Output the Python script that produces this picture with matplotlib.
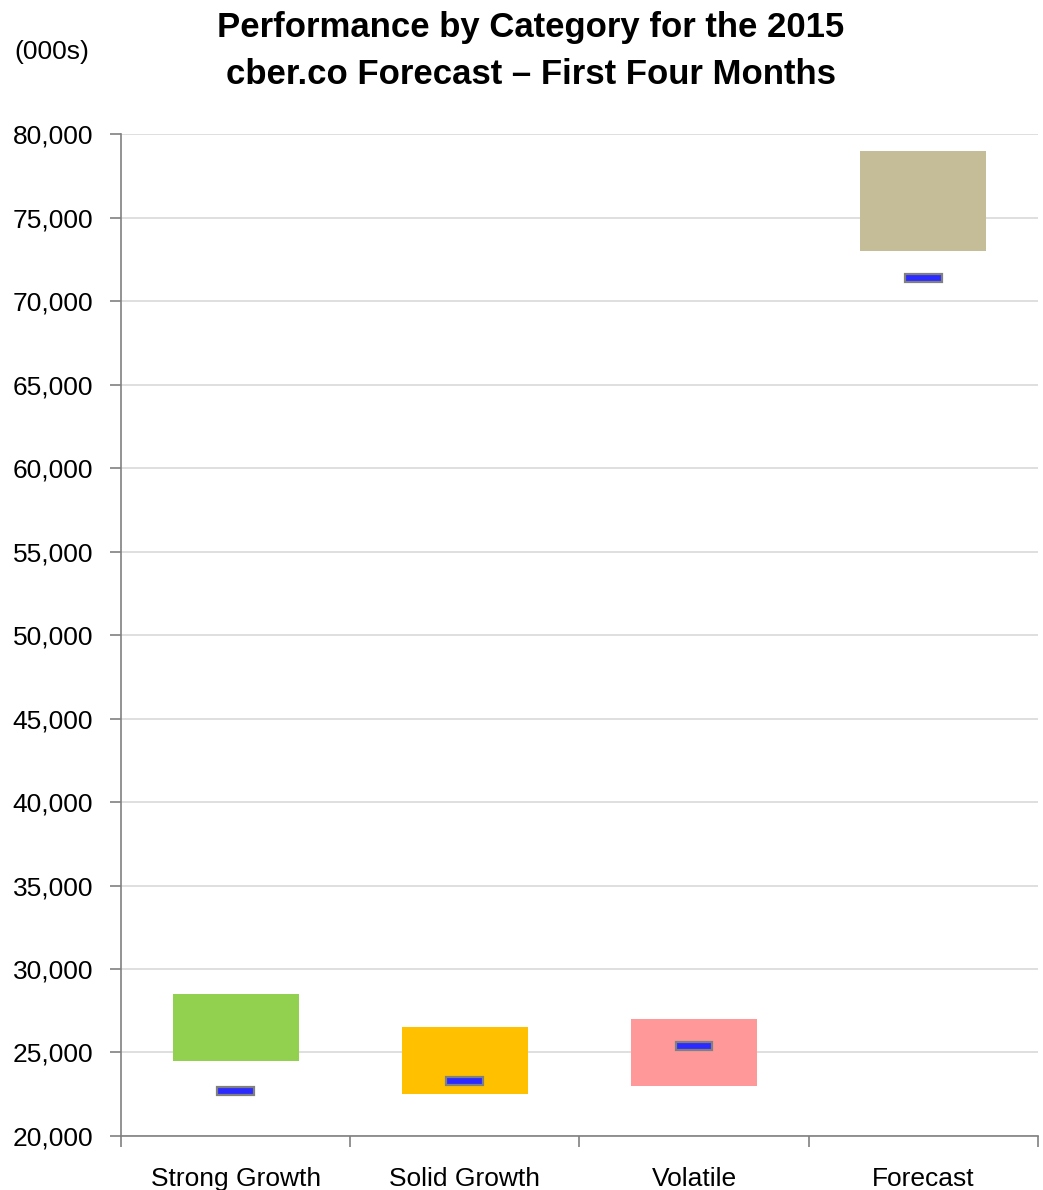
import matplotlib.pyplot as plt
from matplotlib.ticker import FuncFormatter, FixedLocator

plt.rcParams['font.family'] = ['Liberation Sans', 'DejaVu Sans']

categories = ['Strong Growth', 'Solid Growth', 'Volatile', 'Forecast']
range_low = [24500, 22500, 23000, 73000]
range_high = [28500, 26500, 27000, 79000]
actual = [22700, 23300, 25400, 71400]
bar_colors = ['#92D050', '#FFC000', '#FF9999', '#C4BD97']
title_lines = ['Performance by Category for the 2015',
               'cber.co Forecast \u2013 First Four Months']

fig = plt.figure(figsize=(10.43, 11.9), dpi=100)
ax = fig.add_axes([0.116, 0.0454, 0.879, 0.8418])

x = list(range(len(categories)))
heights = [h - l for h, l in zip(range_high, range_low)]
ax.bar(x, heights, bottom=range_low, width=0.55, color=bar_colors, zorder=2)

# actual value markers
for xi, val in zip(x, actual):
    ax.bar(xi, 480, bottom=val - 240, width=0.16, color='#2B2BFF',
           edgecolor='#808080', linewidth=1.6, zorder=3)

ax.set_xlim(-0.5, 3.5)
ax.set_ylim(20000, 80000)
ax.set_yticks(range(20000, 80001, 5000))
ax.yaxis.set_major_formatter(FuncFormatter(lambda v, p: f'{int(v):,}'))
ax.grid(axis='y', color='#D9D9D9', linewidth=1.2, zorder=0)
ax.set_axisbelow(True)

ax.set_xticks(x)
ax.set_xticklabels(categories)
ax.xaxis.set_minor_locator(FixedLocator([-0.5, 0.5, 1.5, 2.5, 3.5]))
ax.tick_params(axis='x', which='major', length=0, labelsize=19, pad=22)
ax.tick_params(axis='x', which='minor', length=8, color='#808080', width=1.2)
ax.tick_params(axis='y', length=8, color='#808080', width=1.2, labelsize=19, pad=12)

for side in ['top', 'right']:
    ax.spines[side].set_visible(False)
for side in ['left', 'bottom']:
    ax.spines[side].set_color('#808080')
    ax.spines[side].set_linewidth(1.2)

fig.text(0.509, 0.9765, title_lines[0], ha='center', va='center',
         fontsize=25, fontweight='bold')
fig.text(0.509, 0.937, title_lines[1], ha='center', va='center',
         fontsize=25, fontweight='bold')
fig.text(0.014, 0.956, '(000s)', ha='left', va='center', fontsize=19)

fig.savefig('out.png', dpi=100)
